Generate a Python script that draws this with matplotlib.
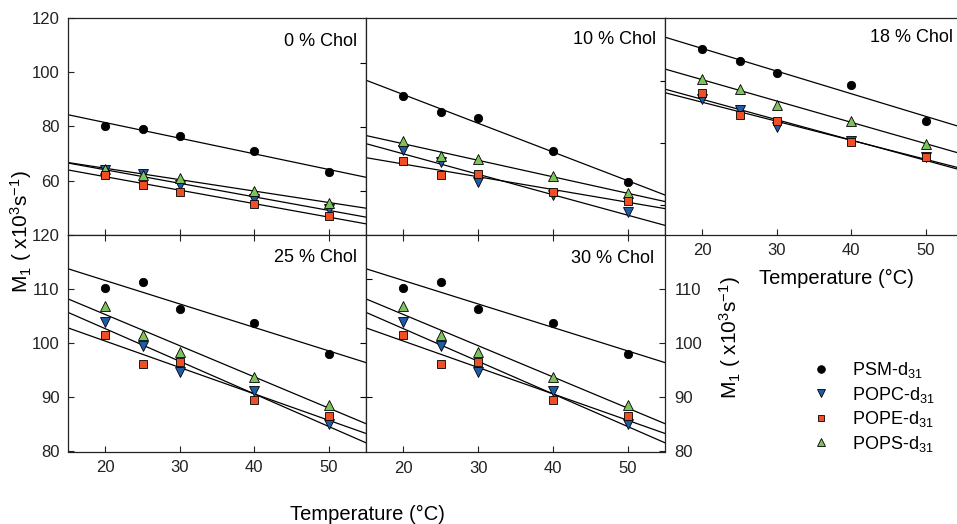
import matplotlib
matplotlib.use('Agg')
import matplotlib.pyplot as plt
from matplotlib.lines import Line2D
import numpy as np

plt.rcParams['font.family'] = ['Liberation Sans', 'DejaVu Sans']
plt.rcParams['mathtext.fontset'] = 'custom'
plt.rcParams['mathtext.rm'] = 'Liberation Sans'
plt.rcParams['mathtext.it'] = 'Liberation Sans:italic'
plt.rcParams['mathtext.bf'] = 'Liberation Sans:bold'
plt.rcParams['mathtext.default'] = 'regular'

# ---------------- data ----------------
temps = [20, 25, 30, 40, 50]

psm_0 = [80.1, 79.2, 76.5, 70.8, 63.2]
popc_0 = [63.8, 62.6, 58.5, 53.3, 49.6]
pope_0 = [62.3, 58.5, 56.0, 51.5, 46.9]
pops_0 = [64.4, 62.2, 61.0, 56.4, 51.7]

psm_10 = [91.4, 85.3, 83.1, 70.9, 59.4]
popc_10 = [71.2, 67.0, 59.5, 54.6, 48.3]
pope_10 = [67.3, 62.1, 62.4, 55.8, 52.7]
pops_10 = [74.6, 69.0, 68.0, 61.6, 55.4]

psm_18 = [108.4, 104.2, 99.9, 95.2, 81.9]
popc_18 = [90.0, 86.0, 79.8, 74.6, 68.7]
pope_18 = [92.5, 84.1, 81.9, 74.2, 68.6]
pops_18 = [97.4, 94.0, 88.1, 82.0, 73.7]

psm_25 = [110.3, 111.4, 106.3, 103.8, 98.0]
popc_25 = [104.0, 99.5, 94.7, 91.1, 85.0]
pope_25 = [101.6, 96.2, 96.5, 89.5, 86.5]
pops_25 = [106.8, 101.6, 98.4, 93.7, 88.6]

psm_30 = [110.3, 111.4, 106.3, 103.8, 98.0]
popc_30 = [104.0, 99.5, 94.7, 91.1, 85.0]
pope_30 = [101.6, 96.2, 96.5, 89.5, 86.5]
pops_30 = [106.8, 101.6, 98.4, 93.7, 88.6]

panel_titles = ['0 % Chol', '10 % Chol', '18 % Chol', '25 % Chol', '30 % Chol']
series_names = ['PSM-d$_{31}$', 'POPC-d$_{31}$', 'POPE-d$_{31}$', 'POPS-d$_{31}$']
x_ticks = [20, 30, 40, 50]

# ---------------- styles ----------------
styles = {
    'psm': dict(marker='o', mfc='black', ms=6.0),
    'popc': dict(marker='v', mfc='#1f5ca8', ms=6.5),
    'pops': dict(marker='^', mfc='#7ec25b', ms=6.5),
    'pope': dict(marker='s', mfc='#f04e24', ms=5.5),
}

W, H = 957, 524
fig = plt.figure(figsize=(W / 100, H / 100), dpi=100)


def rect(x0, y0, x1, y1):
    return [x0 / W, 1 - y1 / H, (x1 - x0) / W, (y1 - y0) / H]


def draw_panel(ax, data, title, tx, ty, ylim):
    xs = np.array([15, 55])
    for key in ['psm', 'popc', 'pops', 'pope']:
        vals = data[key]
        coef = np.polyfit(temps, vals, 1)
        ax.plot(xs, np.polyval(coef, xs), color='black', lw=0.9, zorder=2)
    for key in ['psm', 'popc', 'pops', 'pope']:
        st = styles[key]
        ax.plot(temps, data[key], ls='none', marker=st['marker'], ms=st['ms'],
                mfc=st['mfc'], mec='black', mew=0.6, zorder=3)
    ax.set_xlim(15, 55)
    ax.set_ylim(*ylim)
    ax.set_xticks(x_ticks)
    ax.text(tx, ty, title, transform=ax.transAxes, ha='right', va='center', fontsize=13)
    for sp in ax.spines.values():
        sp.set_linewidth(0.9)
        sp.set_color('#222222')
    ax.tick_params(direction='in', length=4, width=0.8, labelsize=12, pad=6,
                   colors='#222222', labelcolor='#222222')


top_y = (18, 235)
bot_y = (235, 451.5)
cols = [(68, 366), (366, 665), (665, 963)]

ax0 = fig.add_axes(rect(cols[0][0], top_y[0], cols[0][1], top_y[1]))
ax1 = fig.add_axes(rect(cols[1][0], top_y[0], cols[1][1], top_y[1]))
ax2 = fig.add_axes(rect(cols[2][0], top_y[0], cols[2][1], top_y[1]))
ax3 = fig.add_axes(rect(cols[0][0], bot_y[0], cols[0][1], bot_y[1]))
ax4 = fig.add_axes(rect(cols[1][0], bot_y[0], cols[1][1], bot_y[1]))

draw_panel(ax0, dict(psm=psm_0, popc=popc_0, pope=pope_0, pops=pops_0), panel_titles[0], 0.970, 0.89, (40, 120))
draw_panel(ax1, dict(psm=psm_10, popc=popc_10, pope=pope_10, pops=pops_10), panel_titles[1], 0.970, 0.90, (40, 120))
draw_panel(ax2, dict(psm=psm_18, popc=popc_18, pope=pope_18, pops=pops_18), panel_titles[2], 0.966, 0.912, (40, 120))
draw_panel(ax3, dict(psm=psm_25, popc=popc_25, pope=pope_25, pops=pops_25), panel_titles[3], 0.970, 0.898, (80, 120))
draw_panel(ax4, dict(psm=psm_30, popc=popc_30, pope=pope_30, pops=pops_30), panel_titles[4], 0.964, 0.89, (80, 120))

# top-left
ax0.set_yticks([60, 80, 100, 120])
ax0.tick_params(labelbottom=False)
sec0 = ax0.secondary_yaxis('right')
sec0.set_yticks([56.4, 79.8, 103.4])
sec0.tick_params(direction='in', length=4, width=0.8, labelright=False)
sec0.spines['right'].set_visible(False)

# top-middle
ax1.set_yticks([])
ax1.tick_params(labelbottom=False)
sec1 = ax1.secondary_yaxis('right')
sec1.set_yticks([96.8, 73.9, 51.2])
sec1.tick_params(direction='inout', length=7, width=0.8, labelright=False)
sec1.spines['right'].set_visible(False)

# top-right
ax2.set_yticks([])
ax2.tick_params(labelbottom=True)

# bottom-left
ax3.set_yticks([80, 90, 100, 110, 120])
ax3.tick_params(top=True)
sec3 = ax3.secondary_yaxis('right')
sec3.set_yticks([90, 100])
sec3.tick_params(direction='in', length=4, width=0.8, labelright=False)
sec3.spines['right'].set_visible(False)

# bottom-middle
ax4.set_yticks([80, 90, 100, 110])
ax4.tick_params(top=True, left=False, labelleft=False, right=True, labelright=True, pad=7)
sec4 = ax4.secondary_yaxis('left')
sec4.set_yticks([90, 111.8])
sec4.tick_params(direction='in', length=4, width=0.8, labelleft=False)
sec4.spines['left'].set_visible(False)

# axis labels
ylab = 'M$_1$ ( x10$^3$s$^{-1}$)'
fig.text(21 / W, 1 - 232 / H, ylab, rotation=90, ha='center', va='center', fontsize=15)
fig.text(730 / W, 1 - 338 / H, ylab, rotation=90, ha='center', va='center', fontsize=15)
fig.text(367 / W, 1 - 514 / H, 'Temperature (°C)', ha='center', va='center', fontsize=14.5)
fig.text(836 / W, 1 - 278 / H, 'Temperature (°C)', ha='center', va='center', fontsize=14.5)

# legend
handles = []
for key in ['psm', 'popc', 'pope', 'pops']:
    st = styles[key]
    handles.append(Line2D([], [], ls='none', marker=st['marker'], ms=st['ms'] - 0.5,
                          mfc=st['mfc'], mec='black', mew=0.6))
fig.legend(handles, series_names, loc='upper left', bbox_to_anchor=(812 / W, 1 - 360 / H),
           frameon=False, fontsize=13, handlelength=1.0, handletextpad=1.2,
           labelspacing=0.25, borderaxespad=0, borderpad=0)

fig.savefig('out.png', dpi=100)
